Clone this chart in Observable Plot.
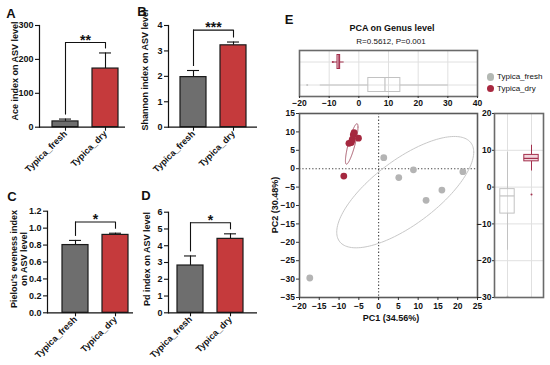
<!DOCTYPE html>
<html><head><meta charset="utf-8">
<script src="https://cdn.jsdelivr.net/npm/d3@7"></script>
<script src="https://cdn.jsdelivr.net/npm/@observablehq/plot@0.6"></script>
<style>
body{margin:0;background:#fff;font-family:"Liberation Sans",Arial,Helvetica,sans-serif;}
#root{position:relative;width:550px;height:365px;overflow:hidden;background:#fff;}
.t{position:absolute;white-space:nowrap;color:#111;line-height:1.15;}
.b{font-weight:bold;}
</style></head><body><div id="root"></div>
<script>
// ---------- data ----------
const groups = ["Typica_fresh", "Typica_dry"];
const aceMean = [17, 173], aceErr = [7, 46];
const shannonMean = [1.97, 3.22], shannonErr = [0.26, 0.13];
const pielouMean = [0.80, 0.92], pielouErr = [0.055, 0.02];
const pdMean = [2.82, 4.41], pdErr = [0.57, 0.30];
const sigLabels = ["**", "***", "*", "*"];
const aceTicks = [0, 100, 200, 300];
const shannonTicks = [0, 1, 2, 3, 4];
const pielouTicks = [0, 0.2, 0.4, 0.6, 0.8, 1.0, 1.2];
const pdTicks = [0, 1, 2, 3, 4, 5, 6];

const freshPC1 = [1.3, 5.1, 8.8, 12.0, 16.0, 21.3, -17.4];
const freshPC2 = [3.0, -2.4, -0.3, -8.6, -5.8, -0.8, -29.7];
const dryPC1 = [-8.8, -7.5, -6.9, -6.7, -6.4, -6.2, -5.1];
const dryPC2 = [-2.0, 6.9, 7.1, 7.8, 9.2, 9.8, 8.3];
const pc1Ticks = [-20, -15, -10, -5, 0, 5, 10, 15, 20, 25];
const pc2Ticks = [-35, -30, -25, -20, -15, -10, -5, 0, 5, 10, 15];
const topBoxTicks = [-20, -10, 0, 10, 20, 30, 40];
const rightBoxTicks = [-30, -20, -10, 0, 10, 20];

// ---------- helpers ----------
const root = document.getElementById("root");
const FONT = '"Liberation Sans", Arial, Helvetica, sans-serif';
const GRAY = "#6e6e6e", RED = "#c53a3c";
function put(node, left, top, w) {
  const d = document.createElement("div");
  d.style.cssText = `position:absolute;left:${left}px;top:${top}px;width:${w}px;`;
  d.appendChild(node); root.appendChild(d);
}
function text(str, x, y, size, bold, rot, color) {
  const d = document.createElement("div");
  d.className = "t" + (bold ? " b" : "");
  d.innerHTML = str;
  d.style.left = x + "px"; d.style.top = y + "px";
  d.style.fontSize = size + "px";
  if (color) d.style.color = color;
  d.style.textAlign = "center";
  d.style.transform = `translate(-50%,-50%)` + (rot ? ` rotate(${rot}deg)` : "");
  root.appendChild(d);
}
const baseStyle = (sz) => ({background: "transparent", overflow: "visible", fontFamily: FONT, fontSize: sz + "px", fontWeight: "bold", color: "#111"});

function barPanel(p) {
  const rows = groups.map((g, i) => ({g, v: p.means[i], top: p.means[i] + p.errs[i]}));
  const br = d3.max(rows, d => d.top) * 1.14;
  const step = 40, bw = 26, pi = 1 - bw / step;
  const span = p.end - p.axis;
  const po = (span / step - (2 - pi)) / 2;
  const align = (p.c1 - bw / 2 - p.axis) / (span - step * (2 - pi));
  const chart = Plot.plot({
    width: p.w, height: p.h,
    marginLeft: p.axis - p.left, marginRight: p.left + p.w - p.end,
    marginTop: p.yTop - p.top, marginBottom: p.top + p.h - p.yBot,
    style: baseStyle(9),
    x: {domain: groups, paddingInner: pi, paddingOuter: po, align, label: null},
    y: {domain: [0, p.ticks[p.ticks.length - 1]], label: null},
    color: {domain: groups, range: [GRAY, RED]},
    marks: [
      Plot.ruleX(rows, {x: "g", y1: "v", y2: "top", stroke: "#111", strokeWidth: 1.1}),
      Plot.tickY(rows, {x: "g", y: "top", stroke: "#111", strokeWidth: 1.1, inset: 7}),
      Plot.barY(rows, {x: "g", y: "v", fill: "g", stroke: "#1a1a1a", strokeWidth: 1.2}),
      Plot.ruleY([br], {x1: () => groups[0], x2: () => groups[1], y: d => d, insetLeft: bw / 2, insetRight: bw / 2, stroke: "#111", strokeWidth: 1.1}),
      Plot.ruleX(rows, {x: "g", y1: () => br, y2: "top", insetBottom: 4, stroke: "#111", strokeWidth: 1.1}),
      Plot.text([p.sig], {x: () => groups[0], y: () => br, text: d => d, dx: step / 2, dy: -2.5, fontSize: 14, fontWeight: "bold", lineAnchor: "middle", fill: "#111"}),
      Plot.frame({anchor: "left", stroke: "#111", strokeWidth: 1.2}),
      Plot.ruleY([0], {stroke: "#111", strokeWidth: 1.2}),
      Plot.axisY({ticks: p.ticks, tickSize: 4, tickPadding: 2, tickFormat: p.fmt, strokeWidth: 1.1, label: null}),
      Plot.axisX({tickRotate: -45, tickSize: 4, tickPadding: 1, strokeWidth: 1.1, label: null})
    ]
  });
  put(chart, p.left, p.top, p.w);
}

barPanel({left: 0, top: 0, w: 135, h: 185, axis: 39, end: 125, c1: 65, yTop: 25, yBot: 126.7,
  means: aceMean, errs: aceErr, ticks: aceTicks, fmt: d3.format("d"), sig: sigLabels[0]});
barPanel({left: 130, top: 0, w: 135, h: 185, axis: 168, end: 257, c1: 193.3, yTop: 25, yBot: 126.7,
  means: shannonMean, errs: shannonErr, ticks: shannonTicks, fmt: d3.format("d"), sig: sigLabels[1]});
barPanel({left: 0, top: 185, w: 135, h: 180, axis: 47, end: 133, c1: 75, yTop: 210.7, yBot: 312.3,
  means: pielouMean, errs: pielouErr, ticks: pielouTicks, fmt: d3.format(".1f"), sig: sigLabels[2]});
barPanel({left: 130, top: 185, w: 135, h: 180, axis: 168, end: 257, c1: 190, yTop: 211.7, yBot: 312.3,
  means: pdMean, errs: pdErr, ticks: pdTicks, fmt: d3.format("d"), sig: sigLabels[3]});

text("A", 11, 14, 13, true); text("B", 142, 12, 13, true);
text("C", 12, 197, 13, true); text("D", 146, 196, 13, true);
text("Ace index on ASV level", 15, 71, 9, true, -90);
text("Shannon index on ASV level", 145, 70, 9, true, -90);
text("Pielou's eveness index<br>on ASV level", 18.5, 259, 9, true, -90);
text("Pd index on ASV level", 147, 259, 9, true, -90);

// ---------- PCA ----------
const FRESH_C = "#b4b4b4", DRY_C = "#a5283f";
const fresh = freshPC1.map((x, i) => ({x, y: freshPC2[i], g: groups[0]}));
const dry = dryPC1.map((x, i) => ({x, y: dryPC2[i], g: groups[1]}));
const ELLIPSE_K = 1.38;
function ellipse(pts, n = 160) {
  const xs = pts.map(d => d.x), ys = pts.map(d => d.y);
  const mx = d3.mean(xs), my = d3.mean(ys);
  const sxx = d3.variance(xs), syy = d3.variance(ys);
  const sxy = d3.sum(pts, d => (d.x - mx) * (d.y - my)) / (pts.length - 1);
  const l11 = Math.sqrt(sxx), l21 = sxy / l11, l22 = Math.sqrt(syy - l21 * l21);
  return d3.range(n + 1).map(i => {
    const t = 2 * Math.PI * i / n, c = Math.cos(t), s = Math.sin(t);
    return {x: mx + ELLIPSE_K * l11 * c, y: my + ELLIPSE_K * (l21 * c + l22 * s)};
  });
}
function boxStats(vals, g) {
  const s = vals.slice().sort(d3.ascending);
  const q1 = d3.quantileSorted(s, 0.25), med = d3.quantileSorted(s, 0.5), q3 = d3.quantileSorted(s, 0.75);
  const iqr = q3 - q1, lo = q1 - 1.5 * iqr, hi = q3 + 1.5 * iqr;
  return {g, q1, med, q3, lo, hi, out: s.filter(v => v < lo || v > hi).map(v => ({g, v}))};
}
const boxColor = {domain: groups, range: ["#c2c2c2", "#a3304d"]};
const boxFill = {"Typica_fresh": "none", "Typica_dry": "#f2d6dd"};

// scatter
put(Plot.plot({
  width: 220, height: 205, marginLeft: 29, marginRight: 13, marginTop: 5, marginBottom: 16,
  style: baseStyle(8.5),
  x: {domain: [-20, 25], label: null},
  y: {domain: [-35, 15], label: null},
  marks: [
    Plot.ruleX([0], {stroke: "#444", strokeDasharray: "1.3,2", strokeWidth: 1.1}),
    Plot.ruleY([0], {stroke: "#444", strokeDasharray: "1.3,2", strokeWidth: 1.1}),
    Plot.line(ellipse(fresh), {x: "x", y: "y", stroke: "#c8c8c8", strokeWidth: 1}),
    Plot.line(ellipse(dry), {x: "x", y: "y", stroke: "#a85a6c", strokeWidth: 1}),
    Plot.dot(fresh, {x: "x", y: "y", r: 3.4, fill: FRESH_C}),
    Plot.dot(dry, {x: "x", y: "y", r: 3.4, fill: DRY_C}),
    Plot.frame({stroke: "#5a5a5a", strokeWidth: 1.6}),
    Plot.axisX({ticks: pc1Ticks, tickSize: 3, tickPadding: 2.5, stroke: "#333"}),
    Plot.axisY({ticks: pc2Ticks, tickSize: 3, tickPadding: 1.5, stroke: "#333"})
  ]
}), 270, 108, 220);

// top boxplot (PC1)
const topStats = [boxStats(freshPC1, groups[0]), boxStats(dryPC1, groups[1])];
put(Plot.plot({
  width: 220, height: 65, marginLeft: 29, marginRight: 13, marginTop: 5, marginBottom: 14,
  style: baseStyle(8.5),
  x: {domain: [-20, 40], label: null},
  y: {domain: [groups[1], groups[0]], padding: 0, axis: null},
  color: boxColor,
  marks: [
    Plot.ruleX(topBoxTicks.slice(1, -1), {stroke: "#e0e0e0", strokeWidth: 1}),
    Plot.ruleY(groups, {y: d => d, stroke: "#e0e0e0", strokeWidth: 1}),
    Plot.ruleY(topStats, {y: "g", x1: "lo", x2: "q1", stroke: "g", strokeWidth: 1}),
    Plot.ruleY(topStats, {y: "g", x1: "q3", x2: "hi", stroke: "g", strokeWidth: 1}),
    Plot.barX(topStats, {y: "g", x1: "q1", x2: "q3", fill: d => boxFill[d.g], stroke: "g", strokeWidth: 1, insetTop: 4.5, insetBottom: 4.5}),
    Plot.tickX(topStats, {y: "g", x: "med", stroke: "g", strokeWidth: 1.2, insetTop: 4.5, insetBottom: 4.5}),
    Plot.dot(topStats.flatMap(d => d.out), {x: "v", y: "g", r: 1, fill: "g"}),
    Plot.frame({stroke: "#6a6a6a", strokeWidth: 1.6}),
    Plot.axisX({ticks: topBoxTicks, tickSize: 2, tickPadding: 1, stroke: "#333"})
  ]
}), 270, 45, 220);

// right boxplot (PC2)
const rightStats = [boxStats(freshPC2, groups[0]), boxStats(dryPC2, groups[1])];
put(Plot.plot({
  width: 84, height: 205, marginLeft: 28, marginRight: 7, marginTop: 5, marginBottom: 16,
  style: baseStyle(8.5),
  x: {domain: groups, padding: 0, axis: null},
  y: {domain: [-30, 20], label: null},
  color: boxColor,
  marks: [
    Plot.ruleY(rightBoxTicks.slice(1, -1), {stroke: "#e0e0e0", strokeWidth: 1}),
    Plot.ruleX(groups, {x: d => d, stroke: "#e0e0e0", strokeWidth: 1}),
    Plot.ruleX(rightStats, {x: "g", y1: "lo", y2: "q1", stroke: "g", strokeWidth: 1}),
    Plot.ruleX(rightStats, {x: "g", y1: "q3", y2: "hi", stroke: "g", strokeWidth: 1}),
    Plot.barY(rightStats, {x: "g", y1: "q1", y2: "q3", fill: d => boxFill[d.g], stroke: "g", strokeWidth: 1, insetLeft: 4.8, insetRight: 4.8}),
    Plot.tickY(rightStats, {x: "g", y: "med", stroke: "g", strokeWidth: 1.2, insetLeft: 4.8, insetRight: 4.8}),
    Plot.dot(rightStats.flatMap(d => d.out), {y: "v", x: "g", r: 1, fill: "g"}),
    Plot.frame({stroke: "#6a6a6a", strokeWidth: 1.6}),
    Plot.axisY({ticks: rightBoxTicks, tickSize: 2, tickPadding: 1, stroke: "#333"})
  ]
}), 466, 108, 84);

text("E", 289, 20, 13, true);
text("PCA on Genus level", 392, 28, 9, true);
text("R=0.5612, P=0.001", 391, 42, 8, false);
text("PC1 (34.56%)", 391, 318, 9, true);
text("PC2 (30.48%)", 275, 205, 9, true, -90);

// legend
const legend = [[groups[0], "#b3b8b3", 77], [groups[1], "#a8283f", 88.5]];
for (const [lab, col, y] of legend) {
  const c = document.createElement("div");
  c.style.cssText = `position:absolute;left:${486.7}px;top:${y - 3.8}px;width:7.6px;height:7.6px;border-radius:50%;background:${col};`;
  root.appendChild(c);
  const t = document.createElement("div");
  t.className = "t"; t.textContent = lab;
  t.style.cssText += `left:497px;top:${y}px;font-size:8px;transform:translateY(-50%);`;
  root.appendChild(t);
}
</script></body></html>
